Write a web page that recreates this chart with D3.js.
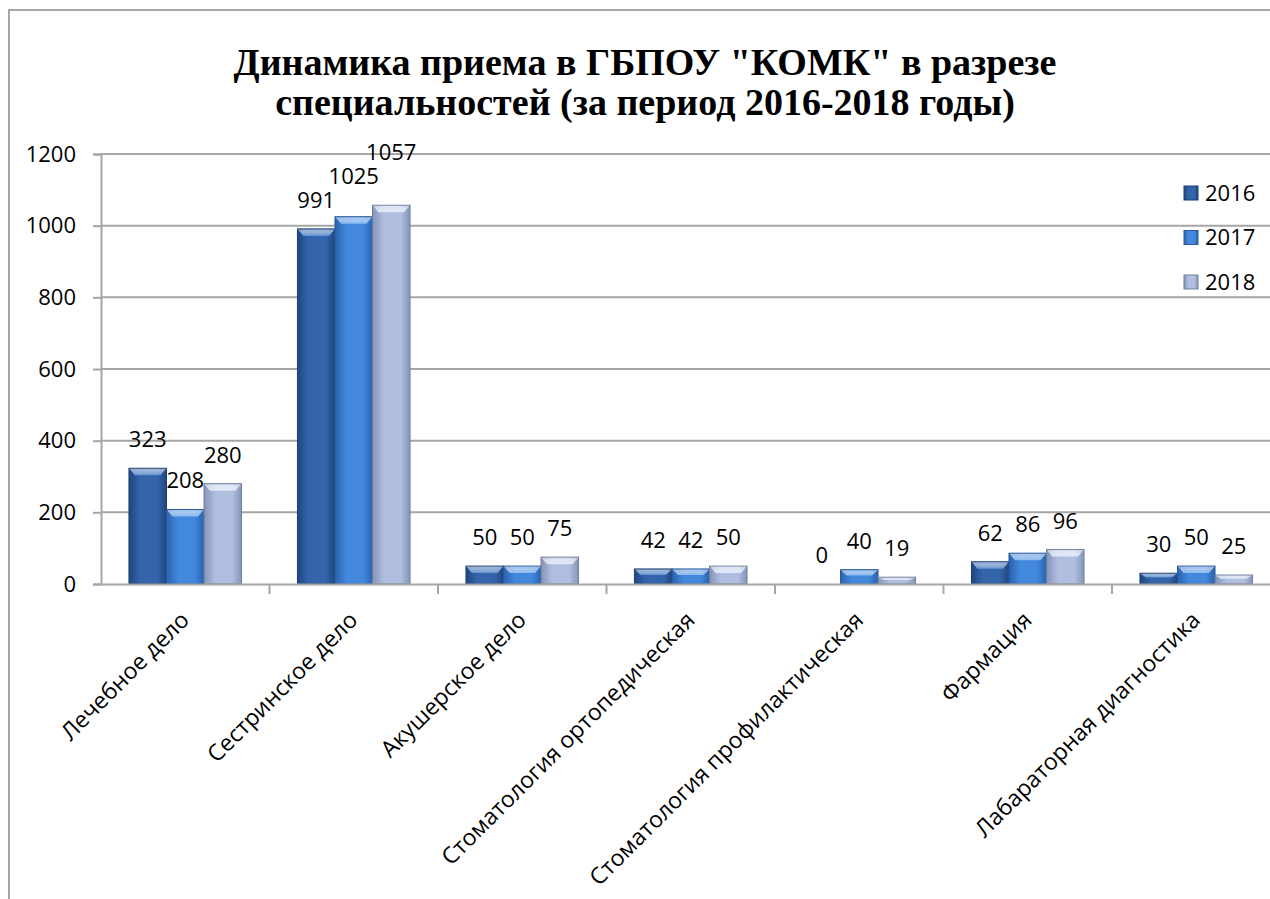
<html>
<head>
<meta charset="utf-8">
<script src="https://d3js.org/d3.v7.min.js"></script>
<style>
body { margin: 0; background: #fff; }
text { font-family: "Open Sans", sans-serif; fill: #000; }
</style>
</head>
<body>
<svg width="1270" height="899"></svg>
<script>
// data
var categories = ["Лечебное дело", "Сестринское дело", "Акушерское дело",
  "Стоматология ортопедическая", "Стоматология профилактическая",
  "Фармация", "Лабараторная диагностика"];
var years = ["2016", "2017", "2018"];
var values2016 = [323, 991, 50, 42, 0, 62, 30];
var values2017 = [208, 1025, 50, 42, 40, 86, 50];
var values2018 = [280, 1057, 75, 50, 19, 96, 25];
var yTicks = [0, 200, 400, 600, 800, 1000, 1200];
var titleLines = ["Динамика приема в ГБПОУ \"КОМК\" в разрезе",
  "специальностей (за период 2016-2018 годы)"];

var series = [values2016, values2017, values2018];
var colors = [
  {mid: "#3465ab", edge: "#1f4680", top: "#5f8fd0", line: "#1d3f70"},
  {mid: "#4288dc", edge: "#2a62b0", top: "#86b6ee", line: "#2a5a9a"},
  {mid: "#b0bfe0", edge: "#8593b8", top: "#dde6f7", line: "#6f7e9f"}
];

var svg = d3.select("svg");
var defs = svg.append("defs");
colors.forEach(function(c, i) {
  var g = defs.append("linearGradient").attr("id", "bar" + i)
    .attr("x1", 0).attr("x2", 1).attr("y1", 0).attr("y2", 0);
  g.append("stop").attr("offset", "0%").attr("stop-color", c.edge);
  g.append("stop").attr("offset", "30%").attr("stop-color", c.mid);
  g.append("stop").attr("offset", "75%").attr("stop-color", c.mid);
  g.append("stop").attr("offset", "100%").attr("stop-color", c.edge);
  var t = defs.append("linearGradient").attr("id", "top" + i)
    .attr("x1", 0).attr("x2", 0).attr("y1", 0).attr("y2", 1);
  t.append("stop").attr("offset", "0%").attr("stop-color", "#ffffff").attr("stop-opacity", 0.5);
  t.append("stop").attr("offset", "100%").attr("stop-color", c.top);
});

// outer frame
svg.append("rect").attr("x", 9).attr("y", 10).attr("width", 1300).attr("height", 1000)
  .attr("fill", "none").attr("stroke", "#a6a6a6").attr("stroke-width", 2);

// title
svg.append("g").selectAll("text").data(titleLines).enter().append("text")
  .attr("x", 645).attr("y", function(d, i) { return 75 + i * 40; })
  .attr("text-anchor", "middle")
  .style("font-family", "'Liberation Serif', 'Times New Roman', serif")
  .style("font-weight", "bold").style("font-size", "38px")
  .text(function(d) { return d; });

var x0 = d3.scaleBand().domain(categories).range([101, 1280.5]).paddingInner(0).paddingOuter(0);
var x1 = d3.scaleBand().domain(years).range([0, x0.bandwidth()]).paddingOuter(0.745).paddingInner(0);
var y = d3.scaleLinear().domain([0, 1200]).range([584, 154]);

// gridlines
svg.append("g").selectAll("line").data(yTicks.slice(1)).enter().append("line")
  .attr("x1", 101).attr("x2", 1270).attr("y1", function(d) { return y(d); })
  .attr("y2", function(d) { return y(d); })
  .attr("stroke", "#a6a6a6").attr("stroke-width", 2);

// y axis
var yAxis = svg.append("g").attr("transform", "translate(101,0)")
  .call(d3.axisLeft(y).tickValues(yTicks).tickFormat(d3.format("d")).tickSize(8).tickPadding(17));
yAxis.select(".domain").attr("stroke", "#a6a6a6").attr("stroke-width", 2);
yAxis.selectAll(".tick line").attr("stroke", "#a6a6a6").attr("stroke-width", 2);
yAxis.selectAll("text").style("font-size", "22px").style("font-family", "'Open Sans', sans-serif");

// bars
var groups = svg.append("g").selectAll("g").data(categories).enter().append("g")
  .attr("transform", function(d) { return "translate(" + x0(d) + ",0)"; });

years.forEach(function(yr, s) {
  var w = x1.bandwidth();
  groups.each(function(cat, i) {
    var v = series[s][i];
    var g = d3.select(this);
    var bx = x1(yr), by = y(v), bh = y(0) - y(v);
    if (bh <= 0) return;
    g.append("rect").attr("x", bx).attr("y", by).attr("width", w).attr("height", bh)
      .attr("fill", "url(#bar" + s + ")").attr("stroke", colors[s].line).attr("stroke-width", 1);
    var bev = Math.min(7, bh * 0.4);
    g.append("path")
      .attr("d", "M" + (bx + 0.5) + "," + (by + 0.5) + " L" + (bx + w - 0.5) + "," + (by + 0.5) +
        " L" + (bx + w - 6) + "," + (by + bev) + " L" + (bx + 6) + "," + (by + bev) + " Z")
      .attr("fill", "url(#top" + s + ")");
  });
});

// category ticks and x axis line
var xAxis = svg.append("g").attr("transform", "translate(0,584)")
  .call(d3.axisBottom(x0).tickSize(0).tickFormat(""));
xAxis.select(".domain").attr("stroke", "#a6a6a6").attr("stroke-width", 2);
svg.append("g").selectAll("line").data(categories).enter().append("line")
  .attr("x1", function(d) { return x0(d) + x0.bandwidth(); })
  .attr("x2", function(d) { return x0(d) + x0.bandwidth(); })
  .attr("y1", 584).attr("y2", 594).attr("stroke", "#a6a6a6").attr("stroke-width", 2);

// category labels rotated
svg.append("g").selectAll("text").data(categories).enter().append("text")
  .attr("transform", function(d) {
    return "translate(" + (x0(d) + x0.bandwidth() / 2 - 6) + ",610) rotate(-45)";
  })
  .attr("text-anchor", "end").attr("dy", "0.7em")
  .style("font-size", "23px")
  .text(function(d) { return d; });

// data labels, nudged up when they collide with the neighbour on the left
groups.each(function(cat, i) {
  var g = d3.select(this);
  var prev = null;
  years.forEach(function(yr, s) {
    var t = g.append("text")
      .attr("x", x1(yr) + x1.bandwidth() / 2)
      .attr("y", y(series[s][i]) - 21)
      .attr("text-anchor", "middle").style("font-size", "22px")
      .text(series[s][i]);
    var b = t.node().getBBox();
    if (prev && b.x < prev.x + prev.width - 4 && b.y + b.height > prev.y + 6) {
      var ny = +t.attr("y") - (b.y + b.height - prev.y - 6);
      t.attr("y", ny);
      b = t.node().getBBox();
    }
    prev = b;
  });
});

// legend
var legend = svg.append("g").selectAll("g").data(years).enter().append("g")
  .attr("transform", function(d, i) { return "translate(1184," + (193 + i * 44.5) + ")"; });
legend.append("rect").attr("x", 0).attr("y", -7).attr("width", 14).attr("height", 14)
  .attr("fill", function(d, i) { return "url(#bar" + i + ")"; })
  .attr("stroke", function(d, i) { return colors[i].line; }).attr("stroke-width", 1);
legend.append("text").attr("x", 21).attr("dy", "0.35em").style("font-size", "22px")
  .text(function(d) { return d; });
</script>
</body>
</html>
